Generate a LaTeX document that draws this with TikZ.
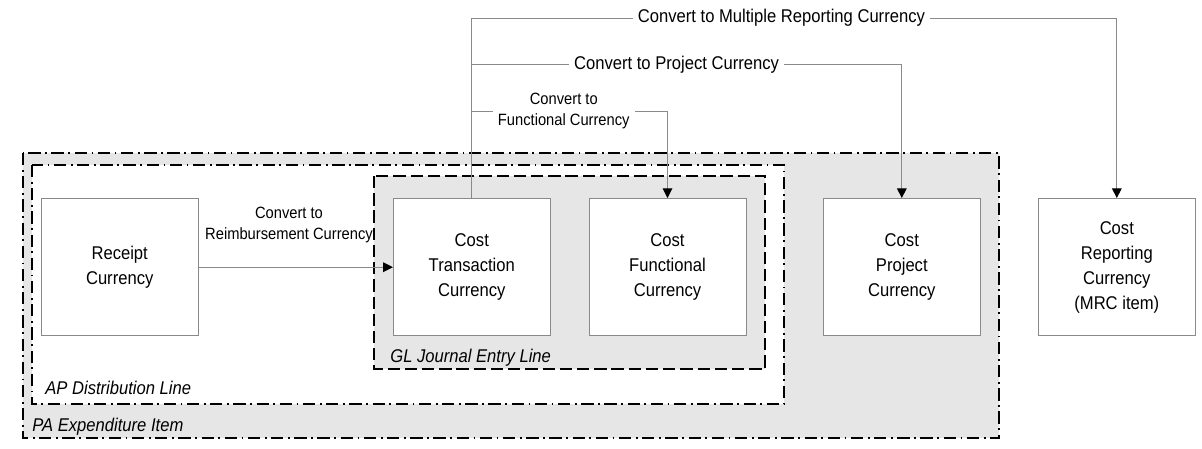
\documentclass[tikz,border=0pt]{standalone}
\usepackage{fontspec}
\setmainfont[FakeStretch=0.9]{Liberation Sans}
\usetikzlibrary{arrows.meta}
\newlength{\currwidth}
\newlength{\currheight}
\setlength{\currwidth}{31.4mm}
\setlength{\currheight}{27.5mm}
\definecolor{groupgray}{HTML}{E6E6E6}
\definecolor{linegray}{HTML}{8A8A8A}
\tikzset{
  currbox/.style={draw=linegray, line width=0.5pt, fill=white,
    minimum width=\currwidth, minimum height=\currheight,
    align=center, font=\fontsize{10.5}{14.2}\selectfont},
  convline/.style={draw=linegray, line width=0.5pt,
    -{Triangle[length=5.5pt,width=5.5pt,color=black]}},
  convlabel/.style={fill=white, inner sep=2.8pt, align=center,
    font=\fontsize{10.5}{13}\selectfont},
  smalllabel/.style={fill=white, inner sep=2.8pt, align=center,
    font=\fontsize{9.3}{12.5}\selectfont},
  grouplabel/.style={anchor=west, inner sep=0pt,
    font=\fontsize{10.5}{12}\selectfont\itshape},
  dashdotgroup/.style={line width=1pt,
    dash pattern=on 7pt off 2.6pt on 1pt off 2.6pt},
  dashedgroup/.style={line width=1pt, dash pattern=on 7pt off 2.8pt},
}

\begin{document}
\begin{tikzpicture}[x=0.02cm, y=-0.02cm]
  \useasboundingbox (0,0) rectangle (1202,449);
  \draw[dashdotgroup, fill=groupgray] (22.7,153) rectangle (999,438);
  \draw[dashdotgroup, fill=white] (31.7,165) rectangle (784,404);
  \draw[dashedgroup, fill=groupgray] (374,176) rectangle (765,369);
  \node[grouplabel] (paitem) at (32,427) {PA Expenditure Item};
  \node[grouplabel] (apline) at (45,388) {AP Distribution Line};
  \node[grouplabel] (glline) at (390,358) {GL Journal Entry Line};

  \node[currbox] (receipt) at (119.7,267.2) {Receipt\\Currency};
  \node[currbox] (trans) at (471.8,267.2) {Cost\\Transaction\\Currency};
  \node[currbox] (func) at (667.5,267.2) {Cost\\Functional\\Currency};
  \node[currbox] (proj) at (901.8,267.2) {Cost\\Project\\Currency};
  \node[currbox] (report) at (1116.8,267.2) {Cost\\Reporting\\Currency\\(MRC item)};

  \draw[convline] (receipt) -- (trans);
  \node[smalllabel, fill=none] (reimb) at (289,225) {Convert to\\Reimbursement Currency};

  \coordinate (mrcturn) at (471.8,18);
  \coordinate (projturn) at (471.8,64.5);
  \coordinate (functurn) at (471.8,111);
  \draw[convline] (trans.north) -- (mrcturn)
    -| node[convlabel, pos=0.24] (mrclbl) {Convert to Multiple Reporting Currency} (report.north);
  \draw[convline] (projturn)
    -| node[convlabel, pos=0.238] (projlbl) {Convert to Project Currency} (proj.north);
  \draw[convline] (functurn)
    -| node[smalllabel, pos=0.235] (funclbl) {Convert to\\Functional Currency} (func.north);
\end{tikzpicture}
\end{document}
